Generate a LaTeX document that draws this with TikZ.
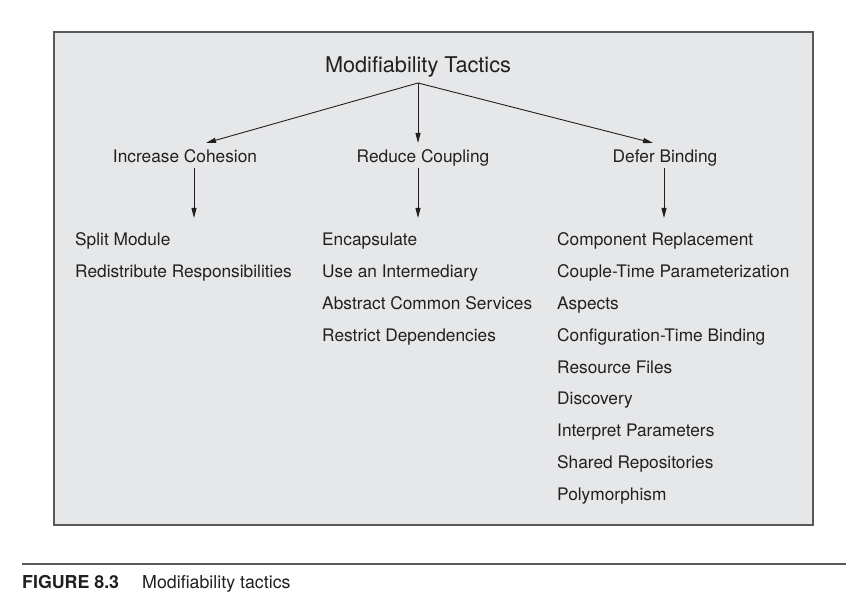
\documentclass[tikz,border=0pt]{standalone}
\usepackage{fontspec}
\setmainfont{TeX Gyre Heros}
\usetikzlibrary{arrows.meta,positioning,calc}
\usepackage{xcolor}
\definecolor{Ink}{HTML}{231F20}
\definecolor{Panel}{HTML}{E6E7E8}
\definecolor{Frame}{HTML}{58595B}

\begin{document}
\begin{tikzpicture}[
        %Environment Cfg.
        x=1pt, y=1pt,
        font=\fontsize{17.3}{20}\selectfont,
        text=Ink,
        >={Triangle[length=10pt,width=5pt]},%from arrows.meta
        %Environment Styles.
        tGroup/.style={
            anchor=base,
            inner sep=0pt
        },
        tItem/.style={
            anchor=base west,
            inner sep=0pt
        },
        tLink/.style={
            ->,
            draw=Ink,
            line width=0.9pt
        },
    ]
    \useasboundingbox (0,0) rectangle (850,612);

    %Grey panel and caption rule.
    \draw[fill=Panel, draw=Frame, line width=1.5pt] (54,87) rectangle (813,580);
    \draw[draw=Frame, line width=1.5pt] (22,48) -- (846,48);

    %Root and the three groups.
    \node[tGroup, font=\fontsize{21.7}{26}\selectfont](ROOT) at (418,539){Modifiability Tactics};
    \node[tGroup](COH) at (185,449){Increase Cohesion};
    \node[tGroup](COU) at (423,449){Reduce Coupling};
    \node[tGroup](DEF) at (665,449){Defer Binding};

    \coordinate (APEX) at (418,529);
    \coordinate (TIP-COH) at (206,469);
    \coordinate (TIP-COU) at (418,469);
    \coordinate (TIP-DEF) at (653,469);
    \draw[tLink](APEX)--(TIP-COH);
    \draw[tLink](APEX)--(TIP-COU);
    \draw[tLink](APEX)--(TIP-DEF);

    %Tactic lists.
    \foreach \t [count=\i from 0] in {Split Module, Redistribute Responsibilities}
        \node[tItem](COH-\i) at (75,366-31.8*\i){\t};
    \foreach \t [count=\i from 0] in {Encapsulate, Use an Intermediary,
            Abstract Common Services, Restrict Dependencies}
        \node[tItem](COU-\i) at (322,366-31.8*\i){\t};
    \foreach \t [count=\i from 0] in {Component Replacement,
            Couple-Time Parameterization, Aspects, Configuration-Time Binding,
            Resource Files, Discovery, Interpret Parameters,
            Shared Repositories, Polymorphism}
        \node[tItem](DEF-\i) at (557,366-31.8*\i){\t};

    %Group to list arrows.
    \coordinate (TOP-COH) at (194,444);
    \coordinate (END-COH) at (194,394);
    \coordinate (TOP-COU) at (418,444);
    \coordinate (END-COU) at (418,394);
    \coordinate (TOP-DEF) at (664,444);
    \coordinate (END-DEF) at (664,394);
    \draw[tLink](TOP-COH)--(END-COH);
    \draw[tLink](TOP-COU)--(END-COU);
    \draw[tLink](TOP-DEF)--(END-DEF);

    %Caption.
    \node[tItem, font=\fontsize{17.8}{20}\selectfont\bfseries](FIG) at (22,23){FIGURE 8.3};
    \node[tItem, font=\fontsize{17.8}{20}\selectfont](CAP) at (142,23){Modifiability tactics};

\end{tikzpicture}
\end{document}
